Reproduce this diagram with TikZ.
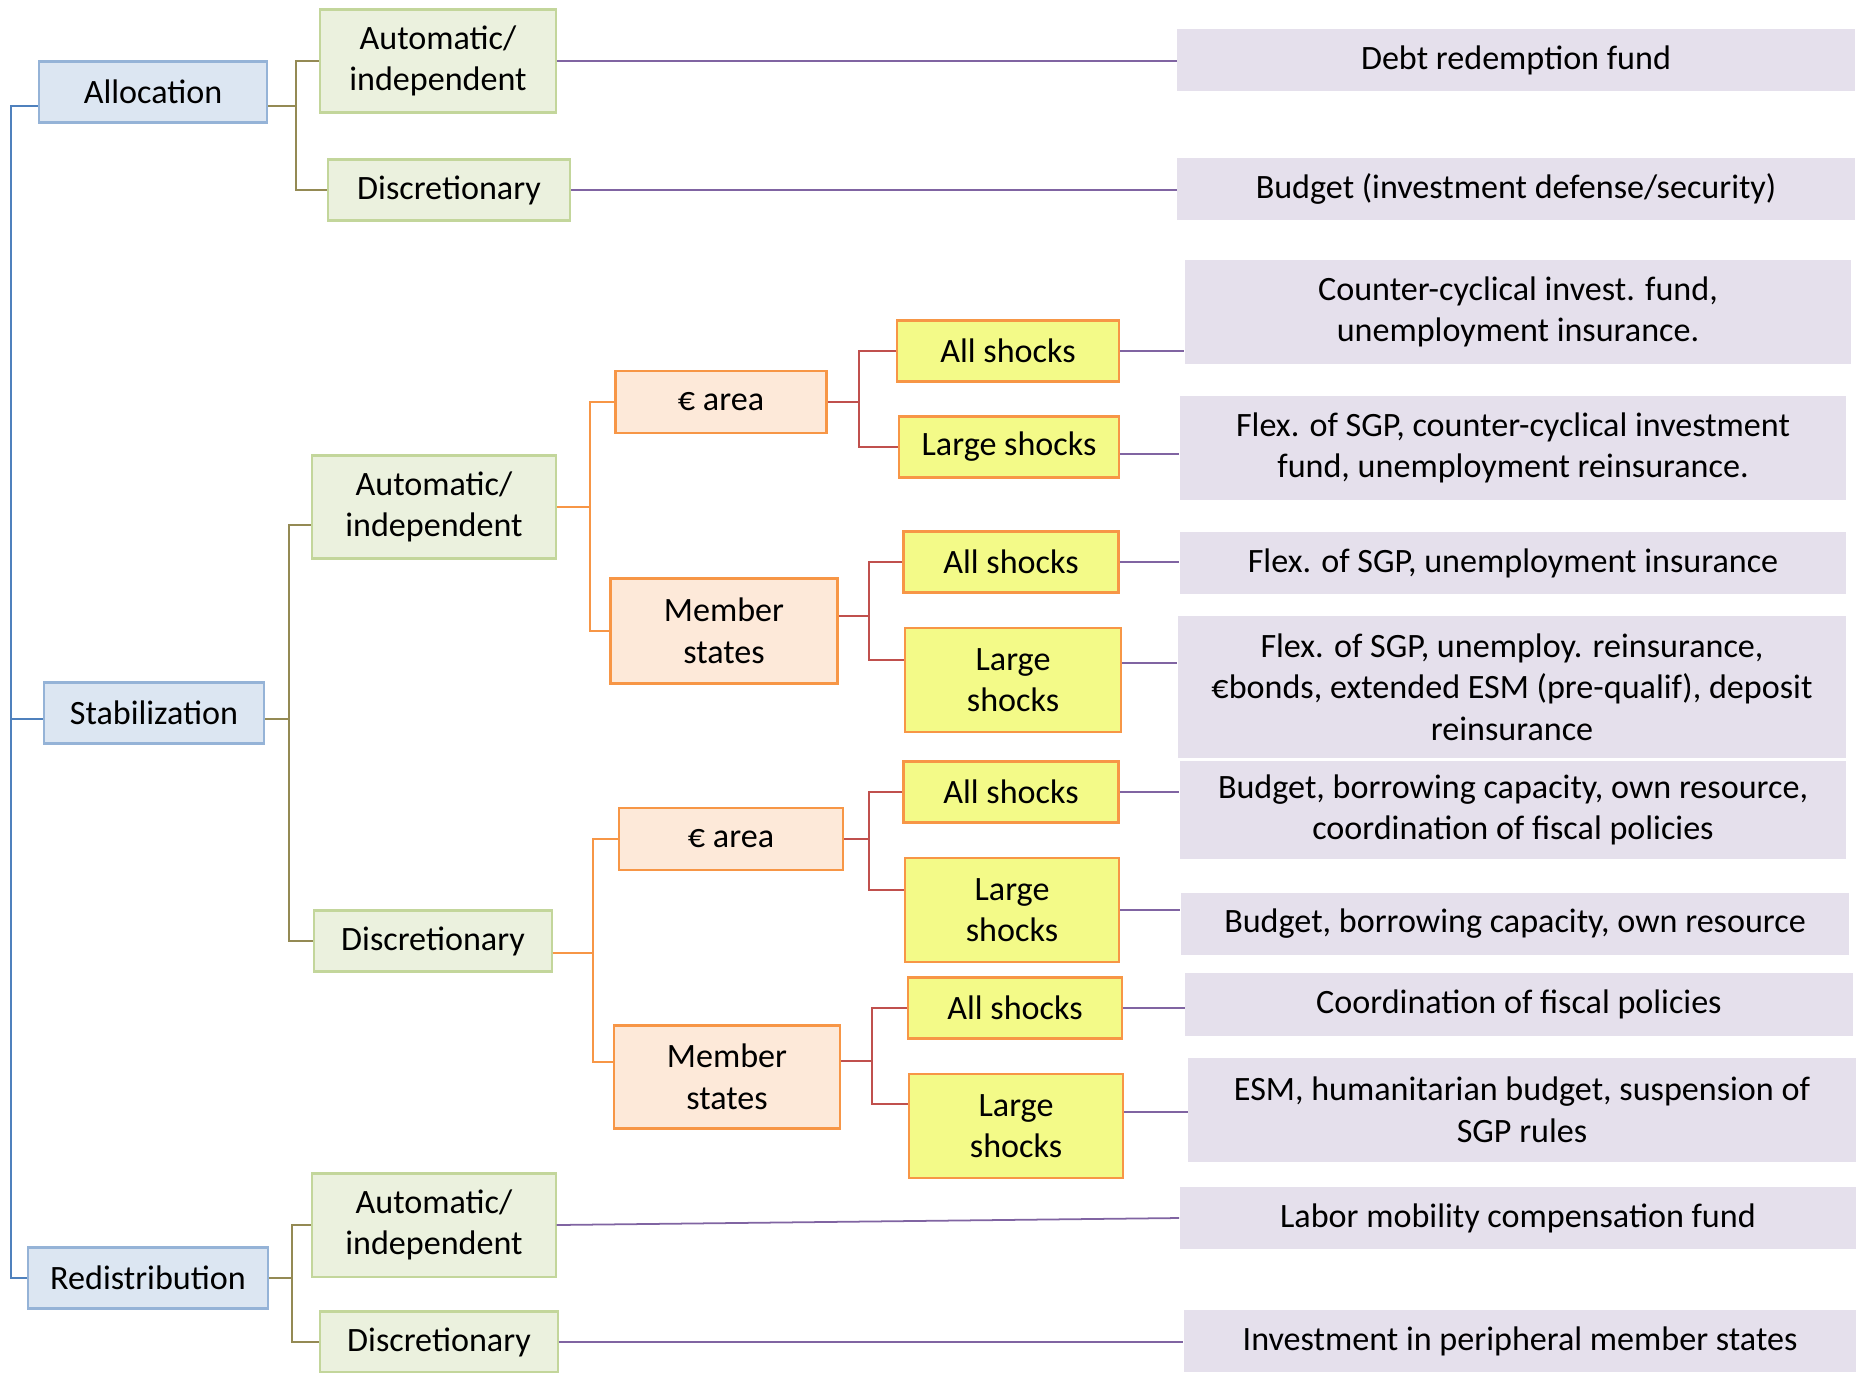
\documentclass[tikz,border=0pt]{standalone}
\usepackage{fontspec}
\setmainfont{Carlito}
\definecolor{catfill}{RGB}{220,230,242}
\definecolor{catdraw}{RGB}{149,179,215}
\definecolor{modefill}{RGB}{235,241,222}
\definecolor{modedraw}{RGB}{195,214,155}
\definecolor{areafill}{RGB}{253,233,217}
\definecolor{areadraw}{RGB}{247,150,70}
\definecolor{shockfill}{RGB}{243,250,136}
\definecolor{toolfill}{RGB}{229,224,236}
\definecolor{bluelink}{RGB}{79,129,189}
\definecolor{olivelink}{RGB}{148,138,84}
\definecolor{redlink}{RGB}{192,80,77}
\definecolor{purplelink}{RGB}{128,100,162}
\begin{document}
\begin{tikzpicture}[x=0.01cm, y=-0.01cm,
    every node/.style={font=\fontsize{9.7}{11.8}\selectfont, align=center, inner sep=1pt},
    catbox/.style={draw=catdraw, line width=0.6pt, fill=catfill, minimum width=2.28cm, minimum height=0.61cm},
    modebox/.style={draw=modedraw, line width=0.6pt, fill=modefill, minimum width=2.38cm, minimum height=0.61cm},
    areabox/.style={draw=areadraw, line width=0.7pt, fill=areafill, minimum width=2.2cm, minimum height=0.62cm},
    shockbox/.style={draw=areadraw, line width=0.7pt, fill=shockfill, minimum width=2.16cm, minimum height=0.61cm},
    toolbox/.style={fill=toolfill, minimum width=6.7cm, minimum height=0.62cm},
    blueline/.style={draw=bluelink, line width=0.5pt},
    oliveline/.style={draw=olivelink, line width=0.5pt},
    orangeline/.style={draw=areadraw, line width=0.5pt},
    redline/.style={draw=redlink, line width=0.5pt},
    purpleline/.style={draw=purplelink, line width=0.5pt}
]
    \useasboundingbox (0,0) rectangle (1858,1372);

    % Categories
    \node[catbox] (alloc) at (153,92) {Allocation};
    \node[catbox, minimum width=2.2cm] (stab) at (154,713) {Stabilization};
    \node[catbox, minimum width=2.4cm] (redist) at (148,1278) {Redistribution};

    % Automatic or discretionary
    \node[modebox, minimum width=2.35cm, minimum height=1.03cm] (aauto) at (438,61) {Automatic/\\independent};
    \node[modebox, minimum width=2.42cm] (adisc) at (449,190) {Discretionary};
    \node[modebox, minimum width=2.43cm, minimum height=1.03cm] (sauto) at (434,507) {Automatic/\\independent};
    \node[modebox, minimum width=2.37cm] (sdisc) at (433,941) {Discretionary};
    \node[modebox, minimum width=2.43cm, minimum height=1.03cm] (rauto) at (434,1225) {Automatic/\\independent};
    \node[modebox, minimum width=2.37cm] (rdisc) at (439,1342) {Discretionary};

    % Euro area or member states
    \node[areabox, minimum width=2.11cm] (eaone) at (721,402) {€ area};
    \node[areabox, minimum width=2.27cm, minimum height=1.05cm] (msone) at (724,631) {Member\\states};
    \node[areabox, minimum width=2.24cm] (eatwo) at (731,839) {€ area};
    \node[areabox, minimum width=2.26cm, minimum height=1.03cm] (mstwo) at (727,1077) {Member\\states};

    % Shocks
    \node[shockbox, minimum width=2.22cm] (asone) at (1008,351) {All shocks};
    \node[shockbox, minimum width=2.2cm] (lsone) at (1009,447) {Large shocks};
    \node[shockbox, minimum width=2.15cm] (astwo) at (1011,562) {All shocks};
    \node[shockbox, minimum height=1.04cm] (lstwo) at (1013,680) {Large\\shocks};
    \node[shockbox, minimum width=2.15cm] (asthree) at (1011,792) {All shocks};
    \node[shockbox, minimum width=2.14cm, minimum height=1.04cm] (lsthree) at (1012,910) {Large\\shocks};
    \node[shockbox, minimum width=2.14cm] (asfour) at (1015,1008) {All shocks};
    \node[shockbox, minimum width=2.14cm, minimum height=1.04cm] (lsfour) at (1016,1126) {Large\\shocks};

    % Instruments
    \node[toolbox, minimum width=6.77cm] (debt) at (1516,60) {Debt redemption fund};
    \node[toolbox, minimum width=6.77cm] (budget) at (1516,189) {Budget (investment defense/security)};
    \node[toolbox, minimum width=6.66cm, minimum height=1.03cm] (ccfund) at (1518,312) {Counter-cyclical invest. fund,\\unemployment insurance.};
    \node[toolbox, minimum width=6.66cm, minimum height=1.03cm] (flexre) at (1513,448) {Flex. of SGP, counter-cyclical investment\\fund, unemployment reinsurance.};
    \node[toolbox, minimum width=6.66cm] (flexins) at (1513,563) {Flex. of SGP, unemployment insurance};
    \node[toolbox, minimum width=6.68cm, minimum height=1.41cm] (flexbonds) at (1512,687) {Flex. of SGP, unemploy. reinsurance,\\€bonds, extended ESM (pre-qualif), deposit\\reinsurance};
    \node[toolbox, minimum width=6.66cm, minimum height=0.97cm] (bbcoord) at (1513,810) {Budget, borrowing capacity, own resource,\\coordination of fiscal policies};
    \node[toolbox, minimum width=6.68cm] (bborrow) at (1515,924) {Budget, borrowing capacity, own resource};
    \node[toolbox, minimum width=6.67cm, minimum height=0.63cm] (coord) at (1519,1004) {Coordination of fiscal policies};
    \node[toolbox, minimum width=6.67cm, minimum height=1.04cm] (esm) at (1522,1110) {ESM, humanitarian budget, suspension of\\SGP rules};
    \node[toolbox, minimum width=6.76cm] (labor) at (1518,1218) {Labor mobility compensation fund};
    \node[toolbox, minimum width=6.72cm] (periph) at (1520,1341) {Investment in peripheral member states};

    % Trunk and buses
    \coordinate (trunk) at (11,0);
    \coordinate (abus) at (296,0);
    \coordinate (sbus) at (289,0);
    \coordinate (rbus) at (292,0);
    \coordinate (autobus) at (590,0);
    \coordinate (discbus) at (593,0);
    \coordinate (eaonebus) at (859,0);
    \coordinate (msonebus) at (869,0);
    \coordinate (eatwobus) at (869,0);
    \coordinate (mstwobus) at (872,0);

    % Ports off centre
    \coordinate (allocin) at ([yshift=-0.14cm]alloc.west);
    \coordinate (allocout) at ([yshift=-0.14cm]alloc.east);
    \coordinate (stabin) at ([yshift=-0.06cm]stab.west);
    \coordinate (stabout) at ([yshift=-0.06cm]stab.east);
    \coordinate (sautoin) at ([yshift=-0.18cm]sauto.west);
    \coordinate (sdiscout) at ([yshift=-0.12cm]sdisc.east);
    \coordinate (mstwoin) at ([yshift=0.15cm]mstwo.west);
    \coordinate (msoneout) at ([yshift=0.15cm]msone.east);
    \coordinate (mstwoout) at ([yshift=0.16cm]mstwo.east);
    \coordinate (lstwoin) at ([yshift=0.2cm]lstwo.west);
    \coordinate (lsthreein) at ([yshift=0.2cm]lsthree.west);
    \coordinate (lsfourin) at ([yshift=0.22cm]lsfour.west);
    \coordinate (lsoneout) at ([yshift=-0.07cm]lsone.east);
    \coordinate (lstwoout) at ([yshift=0.17cm]lstwo.east);
    \coordinate (lsfourout) at ([yshift=0.14cm]lsfour.east);

    \draw[blueline] (allocin) -- (allocin -| trunk) -- (redist.west -| trunk) -- (redist.west);
    \draw[blueline] (stabin) -- (stabin -| trunk);

    \draw[oliveline] (allocout) -- (allocout -| abus) |- (aauto.west);
    \draw[oliveline] (allocout -| abus) |- (adisc.west);
    \draw[oliveline] (stabout) -- (stabout -| sbus) |- (sautoin);
    \draw[oliveline] (stabout -| sbus) |- (sdisc.west);
    \draw[oliveline] (redist.east) -- (redist.east -| rbus) |- (rauto.west);
    \draw[oliveline] (redist.east -| rbus) |- (rdisc.west);

    \draw[orangeline] (sauto.east) -- (sauto.east -| autobus) |- (eaone.west);
    \draw[orangeline] (sauto.east -| autobus) |- (msone.west);
    \draw[orangeline] (sdiscout) -- (sdiscout -| discbus) |- (eatwo.west);
    \draw[orangeline] (sdiscout -| discbus) |- (mstwoin);

    \draw[redline] (eaone.east) -- (eaone.east -| eaonebus) |- (asone.west);
    \draw[redline] (eaone.east -| eaonebus) |- (lsone.west);
    \draw[redline] (msoneout) -- (msoneout -| msonebus) |- (astwo.west);
    \draw[redline] (msoneout -| msonebus) |- (lstwoin);
    \draw[redline] (eatwo.east) -- (eatwo.east -| eatwobus) |- (asthree.west);
    \draw[redline] (eatwo.east -| eatwobus) |- (lsthreein);
    \draw[redline] (mstwoout) -- (mstwoout -| mstwobus) |- (asfour.west);
    \draw[redline] (mstwoout -| mstwobus) |- (lsfourin);

    % Links to instruments
    \draw[purpleline] (aauto.east) -- (aauto.east -| debt.west);
    \draw[purpleline] (adisc.east) -- (adisc.east -| budget.west);
    \draw[purpleline] (asone.east) -- (asone.east -| ccfund.west);
    \draw[purpleline] (lsoneout) -- (lsoneout -| flexre.west);
    \draw[purpleline] (astwo.east) -- (astwo.east -| flexins.west);
    \draw[purpleline] (lstwoout) -- (lstwoout -| flexbonds.west);
    \draw[purpleline] (asthree.east) -- (asthree.east -| bbcoord.west);
    \draw[purpleline] (lsthree.east) -- (lsthree.east -| bborrow.west);
    \draw[purpleline] (asfour.east) -- (asfour.east -| coord.west);
    \draw[purpleline] (lsfourout) -- (lsfourout -| esm.west);
    \draw[purpleline] (rauto.east) -- (labor.west);
    \draw[purpleline] (rdisc.east) -- (rdisc.east -| periph.west);
\end{tikzpicture}
\end{document}
